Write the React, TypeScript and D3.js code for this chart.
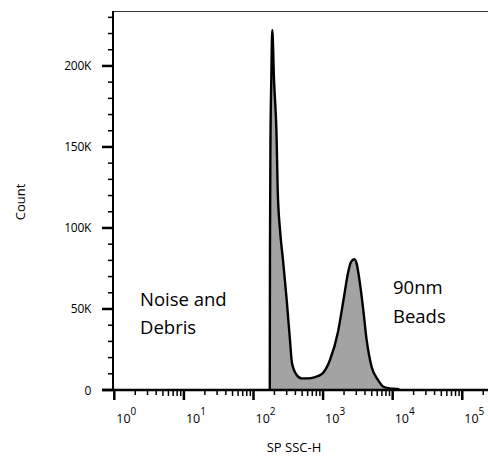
import React from "react";
import * as d3 from "d3";

// Histogram outline: log10(SP SSC-H), count
const logX = [2.234, 2.237, 2.244, 2.256, 2.27, 2.295, 2.333, 2.348, 2.381, 2.424, 2.477, 2.524, 2.553, 2.621, 2.693, 2.783, 2.884, 2.984, 3.099, 3.214, 3.3, 3.358, 3.401, 3.448, 3.487, 3.516, 3.573, 3.626, 3.698, 3.789, 3.861, 3.961, 4.062, 4.105];
const counts = [0, 86400, 154300, 191400, 222200, 191400, 154300, 123500, 98800, 80200, 55600, 30900, 16700, 9300, 7200, 7200, 8000, 9900, 18500, 35800, 57400, 72200, 79000, 80700, 77200, 69800, 51200, 30900, 14200, 6200, 2200, 1000, 600, 0];

const yMajor = [0, 50000, 100000, 150000, 200000];
const yMajorLabels = ["0", "50K", "100K", "150K", "200K"];
const yMinor = d3.range(10000, 240000, 10000).filter((v) => v % 50000 !== 0);
const xDecades = [0, 1, 2, 3, 4, 5];

const W = 488;
const H = 463;
const FONT = "'Open Sans', sans-serif";

export default function App() {
  const x = d3.scaleLog().domain([1, 262144]).range([114.3, 491.4]);
  const y = d3.scaleLinear().domain([0, 233600]).range([390, 11.5]);
  const pts = logX.map((l, i) => [Math.pow(10, l), counts[i]] as [number, number]);
  const area = d3
    .area<[number, number]>()
    .x((d) => x(d[0]))
    .y0(y(0))
    .y1((d) => y(d[1]))
    .curve(d3.curveMonotoneX);
  const line = d3
    .line<[number, number]>()
    .x((d) => x(d[0]))
    .y((d) => y(d[1]))
    .curve(d3.curveMonotoneX);

  const xMinor: number[] = [];
  for (let dec = 0; dec < 6; dec++) {
    for (let m = 2; m <= 9; m++) {
      const v = m * Math.pow(10, dec);
      if (v <= 262144) xMinor.push(v);
    }
  }

  const x0 = 113;
  const yBase = y(0);

  return (
    <svg
      width={W}
      height={H}
      style={{ position: "absolute", left: 0, top: 0, background: "#fff" }}
      fontFamily={FONT}
    >
      {/* top frame line */}
      <line x1={x0} x2={W} y1={11.5} y2={11.5} stroke="#333" strokeWidth={1.2} />
      {/* histogram */}
      <path d={area(pts) || ""} fill="#a3a3a3" stroke="none" />
      <path d={line(pts) || ""} fill="none" stroke="#000" strokeWidth={2.4} strokeLinejoin="round" />
      {/* y axis */}
      <line x1={x0} x2={x0} y1={11} y2={yBase} stroke="#000" strokeWidth={2} />
      {yMinor.map((v) => (
        <line key={"ym" + v} x1={x0 - 5} x2={x0} y1={y(v)} y2={y(v)} stroke="#000" strokeWidth={1.5} />
      ))}
      {yMajor.map((v, i) => (
        <g key={"yM" + v}>
          <line x1={x0 - 11} x2={x0} y1={y(v)} y2={y(v)} stroke="#000" strokeWidth={2.5} />
          <text x={91} y={y(v) + 4.5} textAnchor="end" fontSize={12} fill="#000" letterSpacing={-0.3}>
            {yMajorLabels[i]}
          </text>
        </g>
      ))}
      {/* x axis */}
      <line x1={x0 - 11} x2={W} y1={yBase} y2={yBase} stroke="#000" strokeWidth={2.5} />
      {xMinor.map((v, i) => (
        <line
          key={"xm" + i}
          x1={x(v)}
          x2={x(v)}
          y1={yBase}
          y2={yBase + (v / Math.pow(10, Math.floor(Math.log10(v) + 1e-9)) >= 5 ? 6 : 5)}
          stroke="#000"
          strokeWidth={1.5}
        />
      ))}
      {xDecades.map((d) => (
        <g key={"xd" + d}>
          <line x1={x(Math.pow(10, d))} x2={x(Math.pow(10, d))} y1={yBase} y2={yBase + 10} stroke="#000" strokeWidth={2.5} />
          <text x={x(Math.pow(10, d)) + 2} y={423} fontSize={12.5} fill="#000">
            10
            <tspan dy={-8} fontSize={10}>
              {d}
            </tspan>
          </text>
        </g>
      ))}
      {/* axis titles */}
      <text x={294} y={452} textAnchor="middle" fontSize={13} fill="#000">
        SP SSC-H
      </text>
      <text transform="translate(25,202) rotate(-90)" textAnchor="middle" fontSize={13} fill="#000">
        Count
      </text>
      {/* annotations */}
      <text x={140} y={306} fontSize={18.5} fill="#000">
        Noise and
      </text>
      <text x={140} y={334} fontSize={18.5} fill="#000">
        Debris
      </text>
      <text x={393} y={294} fontSize={18.5} fill="#000">
        90nm
      </text>
      <text x={393} y={323} fontSize={18.5} fill="#000">
        Beads
      </text>
    </svg>
  );
}
